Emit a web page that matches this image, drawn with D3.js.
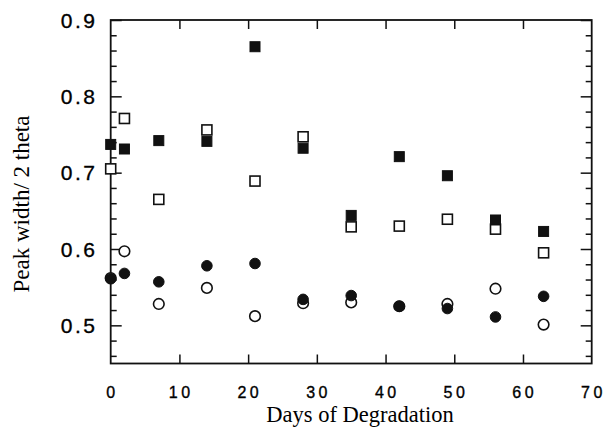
<!DOCTYPE html>
<html>
<head>
<meta charset="utf-8">
<script src="https://cdn.jsdelivr.net/npm/d3@7"></script>
<style>
  html, body { margin: 0; padding: 0; background: #fff; }
  svg { display: block; }
  .tick-label { font-family: "Liberation Sans", Arial, sans-serif; fill: #000; stroke: #000; stroke-width: 0.35px; }
  .axis-title { font-family: "Liberation Serif", "Times New Roman", serif; fill: #000; }
</style>
</head>
<body>
<svg id="chart" width="605" height="428"></svg>
<script>
// Days of degradation at which the samples were measured
const days = [0, 2, 7, 14, 21, 28, 35, 42, 49, 56, 63];

// Peak width (2 theta) per sample series
const filledSquares = [0.737, 0.731, 0.742, 0.741, 0.865, 0.732, 0.644, 0.721, 0.696, 0.638, 0.623];
const openSquares   = [0.705, 0.771, 0.665, 0.756, 0.689, 0.747, 0.629, 0.630, 0.639, 0.626, 0.595];
const filledCircles = [0.561, 0.568, 0.557, 0.578, 0.581, 0.534, 0.539, 0.525, 0.522, 0.511, 0.538];
const openCircles   = [0.562, 0.597, 0.528, 0.549, 0.512, 0.529, 0.530, 0.525, 0.528, 0.548, 0.501];

// Axis ticks and labels
const xTicks = [0, 10, 20, 30, 40, 50, 60, 70];
const yTicks = [0.5, 0.6, 0.7, 0.8, 0.9];
const yMinorTicks = [0.46, 0.48, 0.52, 0.54, 0.56, 0.58, 0.62, 0.64, 0.66, 0.68,
                     0.72, 0.74, 0.76, 0.78, 0.82, 0.84, 0.86, 0.88];

const svg = d3.select("#chart");
const plotLeft = 110.7, plotRight = 591.7, plotTop = 20, plotBottom = 363.5;

const x = d3.scaleLinear().domain([0, 70]).range([plotLeft, plotRight]);
const y = d3.scaleLinear().domain([0.45, 0.9]).range([plotBottom, plotTop]);

const tickStyle = g => {
  g.select(".domain").remove();
  g.selectAll(".tick line").attr("stroke", "#111").attr("stroke-width", 1.5);
  g.selectAll(".tick text").remove();
};

// Inward ticks on all four sides
const innerX = [10, 20, 30, 40, 50, 60];
svg.append("g").attr("transform", `translate(0,${plotBottom})`)
  .call(d3.axisBottom(x).tickValues(innerX).tickSize(-9)).call(tickStyle);
svg.append("g").attr("transform", `translate(0,${plotTop})`)
  .call(d3.axisTop(x).tickValues(innerX).tickSize(-9)).call(tickStyle);
svg.append("g").attr("transform", `translate(${plotLeft},0)`)
  .call(d3.axisLeft(y).tickValues(yTicks).tickSize(-11)).call(tickStyle);
svg.append("g").attr("transform", `translate(${plotLeft},0)`)
  .call(d3.axisLeft(y).tickValues(yMinorTicks).tickSize(-6)).call(tickStyle);
svg.append("g").attr("transform", `translate(${plotRight},0)`)
  .call(d3.axisRight(y).tickValues(yTicks).tickSize(-11)).call(tickStyle);
svg.append("g").attr("transform", `translate(${plotRight},0)`)
  .call(d3.axisRight(y).tickValues(yMinorTicks).tickSize(-6)).call(tickStyle);

// Frame
svg.append("rect")
  .attr("x", plotLeft).attr("y", plotTop)
  .attr("width", plotRight - plotLeft).attr("height", plotBottom - plotTop)
  .attr("fill", "none").attr("stroke", "#111").attr("stroke-width", 1.8);

// Tick labels
const xSpacing = 3.5;
svg.append("g").selectAll("text").data(xTicks).join("text")
  .attr("class", "tick-label")
  .attr("x", d => x(d) + xSpacing / 2)
  .attr("y", 398)
  .attr("text-anchor", "middle")
  .style("font-size", "16px")
  .style("letter-spacing", xSpacing + "px")
  .text(d => d);

const ySpacing = 2.5;
svg.append("g").selectAll("text").data(yTicks).join("text")
  .attr("class", "tick-label")
  .attr("x", 95 + ySpacing)
  .attr("y", d => y(d))
  .attr("dy", "0.36em")
  .attr("text-anchor", "end")
  .style("font-size", "21px")
  .style("letter-spacing", ySpacing + "px")
  .text(d => d.toFixed(1));

// Axis titles
svg.append("text").attr("class", "axis-title")
  .attr("x", 360).attr("y", 422)
  .attr("text-anchor", "middle")
  .style("font-size", "22.5px")
  .text("Days of Degradation");

svg.append("text").attr("class", "axis-title")
  .attr("transform", "translate(29,204) rotate(-90)")
  .attr("text-anchor", "middle")
  .style("font-size", "23px")
  .text("Peak width/ 2 theta");

// Markers
const sq = 10, rad = 5.3;
const pts = vals => days.map((d, i) => ({ d, v: vals[i] }));

svg.append("g").selectAll("rect").data(pts(openSquares)).join("rect")
  .attr("x", p => x(p.d) - sq / 2).attr("y", p => y(p.v) - sq / 2)
  .attr("width", sq).attr("height", sq)
  .attr("fill", "#fff").attr("stroke", "#111").attr("stroke-width", 1.6);

svg.append("g").selectAll("rect").data(pts(filledSquares)).join("rect")
  .attr("x", p => x(p.d) - sq / 2).attr("y", p => y(p.v) - sq / 2)
  .attr("width", sq).attr("height", sq)
  .attr("fill", "#111").attr("stroke", "#111").attr("stroke-width", 1);

svg.append("g").selectAll("circle").data(pts(openCircles)).join("circle")
  .attr("cx", p => x(p.d)).attr("cy", p => y(p.v)).attr("r", rad)
  .attr("fill", "#fff").attr("stroke", "#111").attr("stroke-width", 1.6);

svg.append("g").selectAll("circle").data(pts(filledCircles)).join("circle")
  .attr("cx", p => x(p.d)).attr("cy", p => y(p.v)).attr("r", rad)
  .attr("fill", "#111").attr("stroke", "#111").attr("stroke-width", 1);
</script>
</body>
</html>
